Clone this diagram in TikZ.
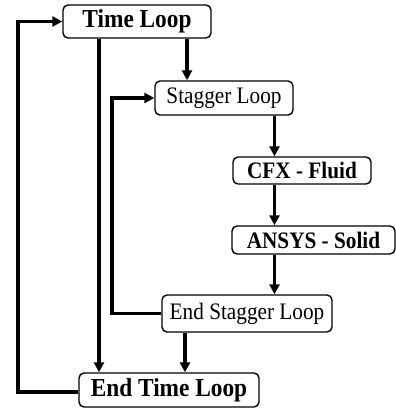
\documentclass[tikz,border=0pt]{standalone}
\usepackage{fontspec}
\setmainfont{Liberation Serif}
\newfontfamily\tallserif[FakeStretch=0.9]{Liberation Serif}
\usetikzlibrary{arrows.meta}
\begin{document}
\begin{tikzpicture}[x=1pt,y=-1pt,
  box/.style={draw=black, line width=1.4pt, rounded corners=5pt, inner sep=0pt, align=center},
  bigb/.style={font=\tallserif\fontsize{25.9}{30}\selectfont\bfseries},
  medb/.style={font=\tallserif\fontsize{23.6}{28}\selectfont\bfseries},
  medr/.style={font=\tallserif\fontsize{23.6}{28}\selectfont},
  conn/.style={line width=3.2pt, line join=miter},
  arr/.style={conn, -{Triangle[length=10pt,width=10pt]}}]
\useasboundingbox (0,0) rectangle (396,408);
\node[box,bigb,minimum width=148pt,minimum height=33pt] (tl) at (137,21.5) {Time Loop};
\node[box,medr,minimum width=138pt,minimum height=34pt] (sl) at (224,98) {Stagger Loop};
\node[box,medb,minimum width=138pt,minimum height=27pt] (cfx) at (302,170.5) {CFX - Fluid};
\node[box,medb,minimum width=163pt,minimum height=28pt] (an) at (313.5,240) {ANSYS - Solid};
\node[box,medr,minimum width=170pt,minimum height=37pt] (esl) at (247,313.5) {End Stagger Loop};
\node[box,bigb,minimum width=180pt,minimum height=34pt] (etl) at (169,390) {End Time Loop};
\coordinate (c187) at (187,0);
\coordinate (c274) at (274.5,0);
\coordinate (c185) at (185,0);
\coordinate (c99) at (99,0);
\coordinate (lo) at (18,0);
\coordinate (li) at (112,0);
\draw[arr] (tl.south -| c187) -- (sl.north -| c187);
\draw[arr] (sl.south -| c274) -- (cfx.north -| c274);
\draw[arr] (cfx.south -| c274) -- (an.north -| c274);
\draw[arr] (an.south -| c274) -- (esl.north -| c274);
\draw[arr] (esl.south -| c185) -- (etl.north -| c185);
\draw[arr] (tl.south -| c99) -- (etl.north -| c99);
\draw[arr] ([yshift=-2pt]etl.west) -| (lo |- tl.west) -- (tl.west);
\draw[arr] (esl.west) -| (li |- sl.west) -- (sl.west);
\end{tikzpicture}
\end{document}
